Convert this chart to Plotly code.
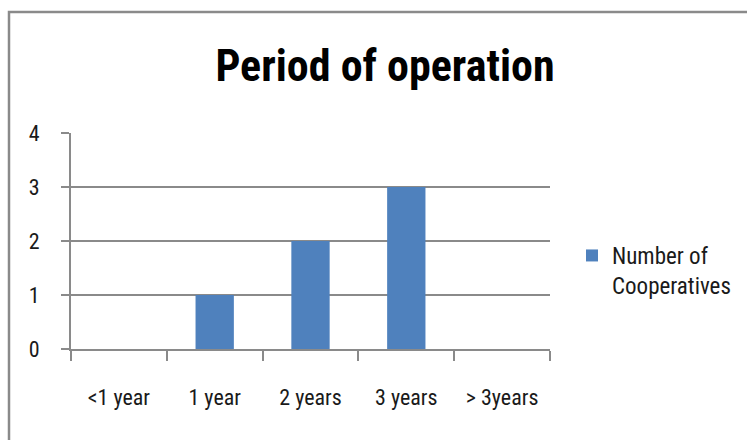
import plotly.graph_objects as go

categories = ["<1 year", "1 year", "2 years", "3 years", "> 3years"]
values = [0, 1, 2, 3, 0]
series_name = "Number of<br>Cooperatives"
title_text = "Period of operation"

FONT = "Liberation Sans Narrow, Arial Narrow, Roboto Condensed, sans-serif"
GRID = "#8a8a8a"
TXT = "#1a1a1a"

fig = go.Figure(go.Bar(
    x=categories, y=values, name=series_name,
    marker=dict(color="#4F81BD", line=dict(width=0)),
    width=0.4, showlegend=True,
))

L, R, T, B = 71, 197, 133, 91
W, H = 747, 440
pw, ph = W - L - R, H - T - B

fig.update_layout(
    width=W, height=H,
    margin=dict(l=L, r=R, t=T, b=B, pad=0, autoexpand=False),
    paper_bgcolor="white", plot_bgcolor="white",
    font=dict(family=FONT, size=22, color=TXT),
    title=dict(text=f"<b>{title_text}</b>", x=(385 - L) / pw, xref="paper", xanchor="center",
               y=1 - 66 / H, yanchor="middle",
               font=dict(family=FONT, size=44, color="black")),
    showlegend=True,
    legend=dict(xref="container", yref="container",
                x=572 / W, y=1 - 234 / H, xanchor="left", yanchor="top",
                valign="top",
                font=dict(family=FONT, size=23, color=TXT),
                bgcolor="rgba(0,0,0,0)", itemwidth=30, tracegroupgap=0),
    bargap=0.6,
)

fig.update_xaxes(
    type="category", range=[-0.5, 4.5],
    showline=True, linecolor=GRID, linewidth=2,
    ticks="outside", tickson="boundaries", ticklen=10, tickcolor=GRID, tickwidth=1.5,
    showgrid=False, ticklabelstandoff=28,
    tickfont=dict(family=FONT, size=22, color=TXT),
)
fig.update_yaxes(
    range=[0, 4], dtick=1, tick0=0,
    showline=True, linecolor=GRID, linewidth=2,
    ticks="outside", ticklen=8, tickcolor=GRID, tickwidth=1.5,
    showgrid=True, gridcolor=GRID, gridwidth=2,
    zeroline=False, ticklabelstandoff=17,
    tickfont=dict(family=FONT, size=22, color=TXT),
)

# outer chart border
fig.add_shape(type="rect", xref="paper", yref="paper",
              x0=(9 - L) / pw, x1=(760 - L) / pw,
              y0=(H - B - 460) / ph, y1=(H - B - 12) / ph,
              line=dict(color="#8a8a8a", width=2.5), fillcolor="rgba(0,0,0,0)", layer="below")

fig.write_html("out.html", config={"displayModeBar": False},
               post_script="document.body.style.margin='0px';document.body.style.padding='0px';")
